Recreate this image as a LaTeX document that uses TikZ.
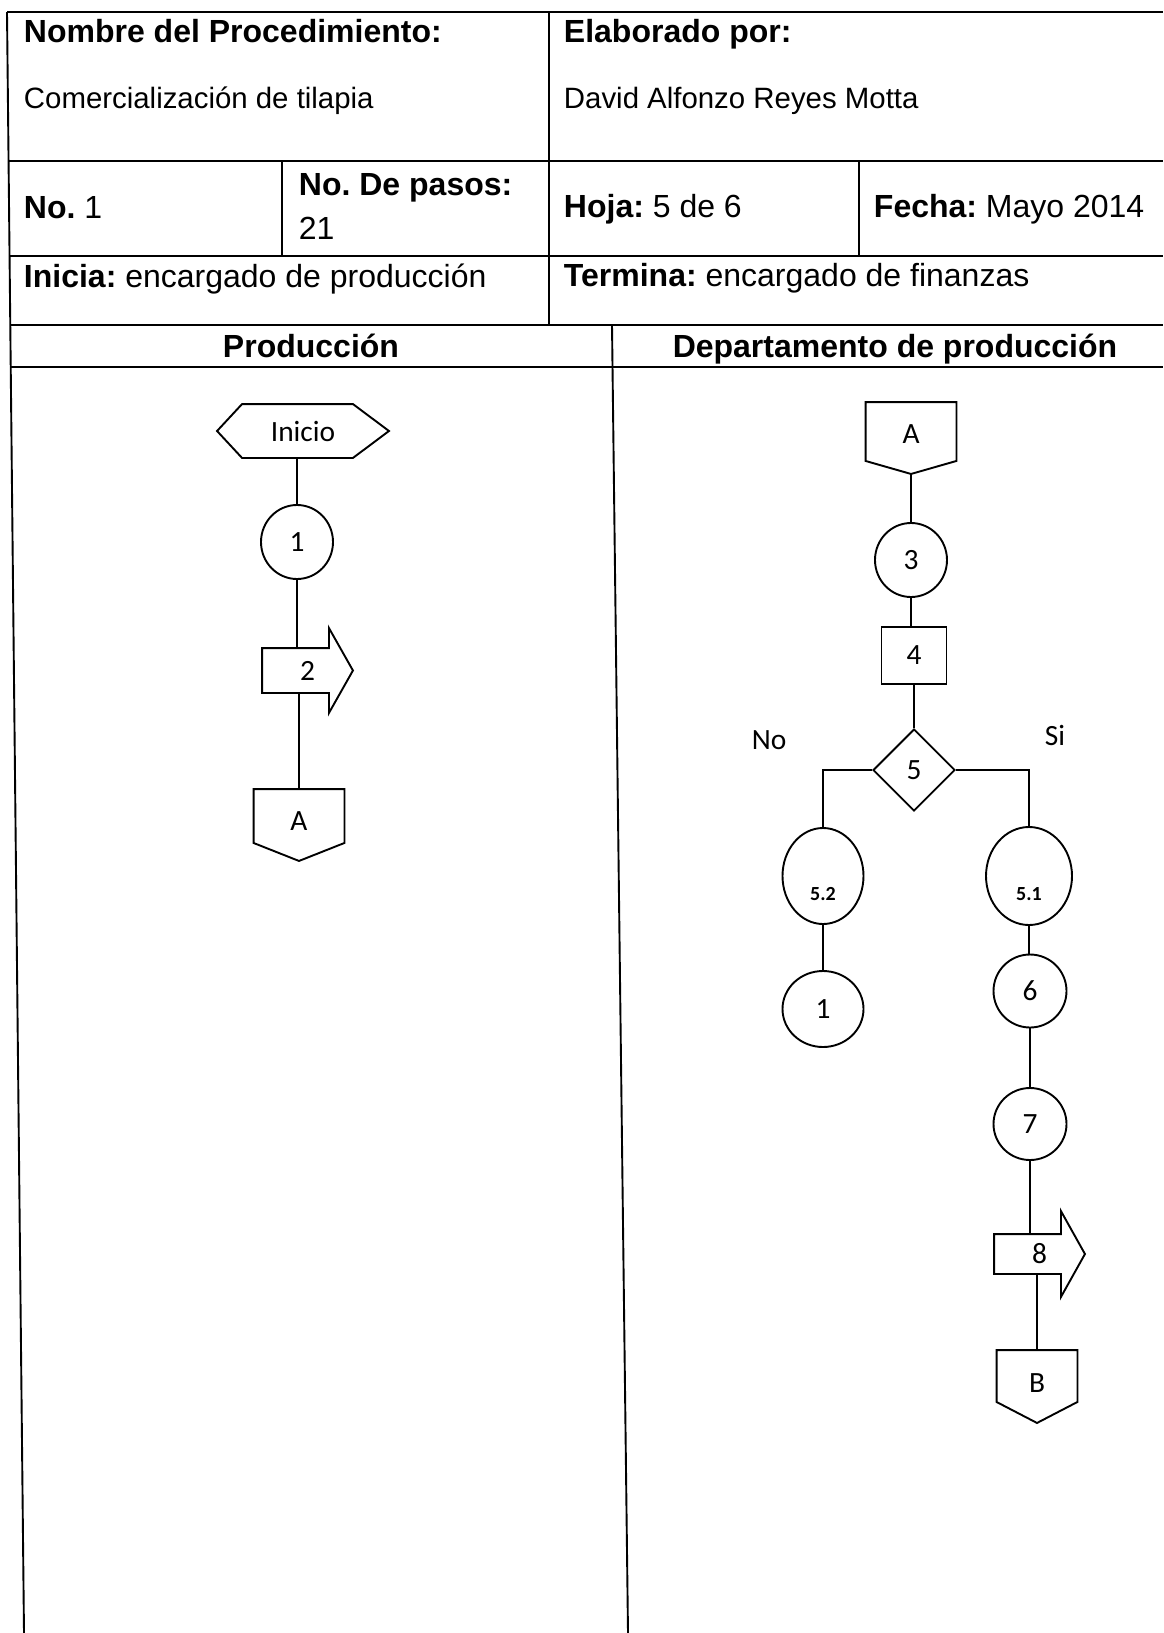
\documentclass[tikz,border=0pt]{standalone}
\usepackage{fontspec}
\setmainfont{Liberation Sans}
\newfontfamily\calfont{Carlito}
\usetikzlibrary{calc,shapes.geometric}
\frenchspacing
\begin{document}
\begin{tikzpicture}[x=1pt,y=-1pt,line width=1.9pt,
  hdr/.style={anchor=base west,inner sep=0pt,font=\fontsize{32}{36}\selectfont},
  val/.style={anchor=base west,inner sep=0pt,font=\fontsize{29.4}{33}\selectfont},
  lbl/.style={inner sep=0pt,font=\calfont\fontsize{29.4}{33}\selectfont},
  small/.style={inner sep=0pt,font=\calfont\bfseries\fontsize{20}{24}\selectfont},
  circ/.style={draw,ellipse,lbl},
  shp/.style={rectangle,lbl},
  offp/.style={shp,text height=19pt,text depth=8pt}]
\fill[white] (0,0) rectangle (1163,1633);
\useasboundingbox (0,0) rectangle (1163,1633);
% table frame
\draw (7,12) -- (24,1633);
\draw (7,12) -- (1163,12);
\draw (8.6,161) -- (1163,161);
\draw (9.6,256) -- (1163,256);
\draw (10.3,325) -- (1163,325);
\draw (10.7,367) -- (1163,367);
\draw (549,12) -- (549,325);
\draw (282,161) -- (282,256);
\draw (859,161) -- (859,256);
\draw (612,325) -- (628,1633);
% header texts
\node[hdr] (t1) at (23,42) {\textbf{Nombre del Procedimiento:}};
\node[val] (t2) at (23,108) {Comercialización de tilapia};
\node[hdr] (t3) at (563,42) {\textbf{Elaborado por:}};
\node[val] (t4) at (563,108) {David Alfonzo Reyes Motta};
\node[hdr] (t5) at (23,218) {\textbf{No.} 1};
\node[hdr] (t6) at (298,195) {\textbf{No. De pasos:}};
\node[hdr] (t7) at (298,239) {21};
\node[hdr] (t8) at (563,217) {\textbf{Hoja:} 5 de 6};
\node[hdr] (t9) at (873,217) {\textbf{Fecha:} Mayo 2014};
\node[hdr] (t10) at (23,287) {\textbf{Inicia:} encargado de producción};
\node[hdr] (t11) at (563,286) {\textbf{Termina:} encargado de finanzas};
\node[hdr,anchor=base] (t12) at (311,357) {\textbf{Producción}};
\node[hdr,anchor=base] (t13) at (895,357) {\textbf{Departamento de producción}};
% left lane
\node[shp,minimum width=170pt,minimum height=52pt] (ini) at (303,431) {Inicio};
\draw (ini.west) -- ([xshift=25pt]ini.north west) -- ([xshift=-36pt]ini.north east) -- (ini.east)
  -- ([xshift=-36pt]ini.south east) -- ([xshift=25pt]ini.south west) -- cycle;
\node[circ,minimum width=72pt,minimum height=74pt] (c1) at (297,542) {1};
\node[shp,minimum width=89pt,minimum height=43pt] (s2) at (307.5,670.5) {2};
\draw (s2.north west) -- ([xshift=-24pt]s2.north east) -- ([xshift=-24pt,yshift=20pt]s2.north east)
  -- (s2.east) -- ([xshift=-24pt,yshift=-20pt]s2.south east) -- ([xshift=-24pt]s2.south east)
  -- (s2.south west) -- cycle;
\node[offp,minimum width=89pt,minimum height=70pt] (oA1) at (299,825) {A};
\draw (oA1.north west) -- (oA1.north east) -- ([yshift=18pt]oA1.south east) -- (oA1.south)
  -- ([yshift=18pt]oA1.south west) -- cycle;
\draw (c1.north) -- (c1.north |- ini.south);
\draw (c1.south) -- (c1.south |- s2.north);
\draw (oA1.north) -- (oA1.north |- s2.south);
% right lane
\node[offp,minimum width=89pt,minimum height=70pt] (oA2) at (911,438) {A};
\draw (oA2.north west) -- (oA2.north east) -- ([yshift=13pt]oA2.south east) -- (oA2.south)
  -- ([yshift=13pt]oA2.south west) -- cycle;
\node[circ,minimum width=72pt,minimum height=74pt] (c3) at (911,560) {3};
\node[shp,draw,minimum width=65pt,minimum height=57pt] (r4) at (914,655.5) {4};
\node[draw,diamond,lbl,minimum width=82pt,minimum height=82pt] (d5) at (914,770) {5};
\node[lbl] (no) at (769,740) {No};
\node[lbl] (si) at (1055,735) {Si};
\node[circ,minimum width=81pt,minimum height=96pt] (e52) at (823,876) {};
\node[small] (e52t) at (823,894) {5.2};
\node[circ,minimum width=86pt,minimum height=98pt] (e51) at (1029,876) {};
\node[small] (e51t) at (1029,894) {5.1};
\node[circ,minimum width=81pt,minimum height=76pt] (e1) at (823,1009) {1};
\node[circ,minimum width=73pt,minimum height=73pt] (e6) at (1030,991) {6};
\node[circ,minimum width=73pt,minimum height=72pt] (e7) at (1030,1124) {7};
\node[shp,minimum width=89pt,minimum height=38pt] (s8) at (1039.5,1254) {8};
\draw (s8.north west) -- ([xshift=-24pt]s8.north east) -- ([xshift=-24pt,yshift=23pt]s8.north east)
  -- (s8.east) -- ([xshift=-24pt,yshift=-23pt]s8.south east) -- ([xshift=-24pt]s8.south east)
  -- (s8.south west) -- cycle;
\node[offp,minimum width=79pt,minimum height=71pt] (oB) at (1037,1386.5) {B};
\draw (oB.north west) -- (oB.north east) -- ([yshift=21pt]oB.south east) -- (oB.south)
  -- ([yshift=21pt]oB.south west) -- cycle;
\draw (oA2.south) -- (oA2.south |- c3.north);
\draw (c3.south) -- (c3.south |- r4.north);
\draw (r4.south) -- (r4.south |- d5.north);
\draw (d5.west) -| (e52.north);
\draw (d5.east) -| (e51.north);
\draw (e52.south) -- (e52.south |- e1.north);
\draw (e51.south) -- (e51.south |- e6.north);
\draw (e6.south) -- (e6.south |- e7.north);
\draw (e7.south) -- (e7.south |- s8.north);
\draw (oB.north) -- (oB.north |- s8.south);
\end{tikzpicture}
\end{document}
